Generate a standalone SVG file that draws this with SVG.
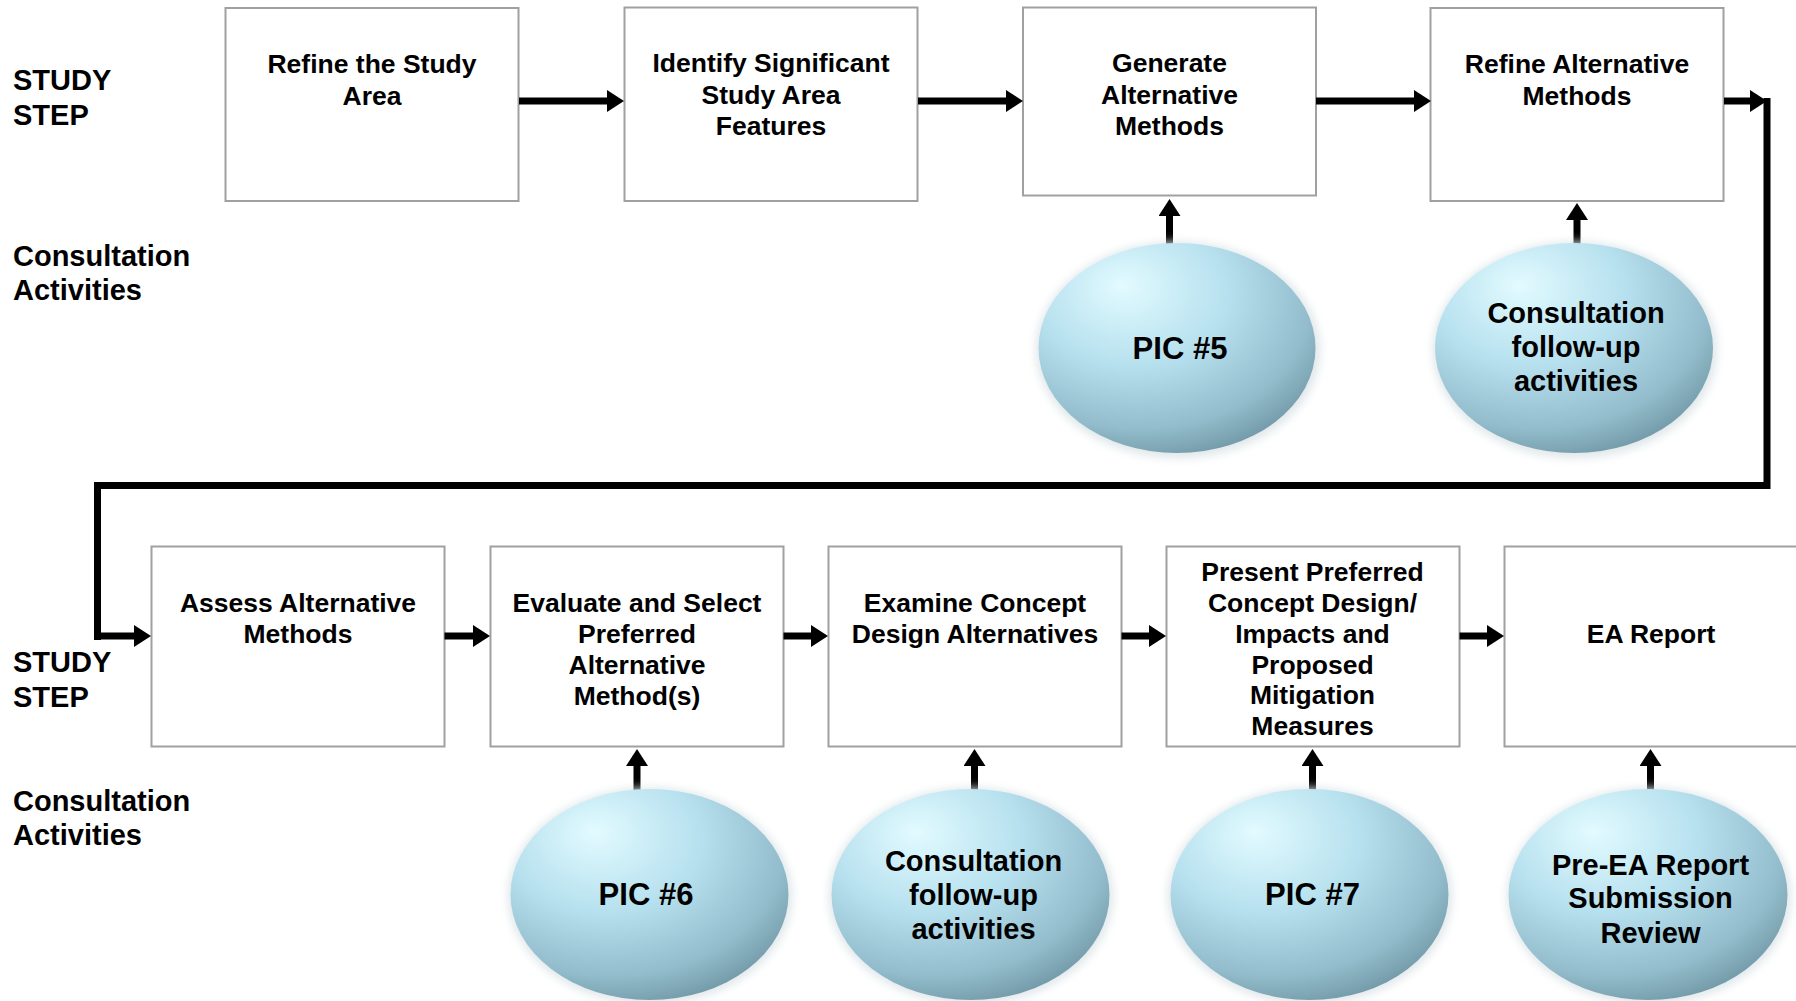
<svg xmlns="http://www.w3.org/2000/svg" width="1796" height="1001" viewBox="0 0 1796 1001">
<defs>
<style>
.box{fill:#ffffff;stroke:#a0a0a0;stroke-width:2}
.t{font-family:"Liberation Sans",Arial,sans-serif;font-weight:bold;fill:#000;text-anchor:middle}
.bt{font-size:26.5px}
.ct{font-size:29px}
.pt{font-size:31px}
.lab{font-family:"Liberation Sans",Arial,sans-serif;font-weight:bold;font-size:29px;fill:#000}
.bub{fill:url(#bg)}
.halo{fill:#dfe6e9;filter:url(#blur)}
.arr{stroke:#000;stroke-width:7;fill:none;marker-end:url(#head)}
.loop{stroke:#000;stroke-width:7;fill:none;stroke-linejoin:miter}
</style>
<radialGradient id="bg" cx="0.38" cy="0.28" r="0.78" fx="0.3" fy="0.2">
<stop offset="0" stop-color="#e2fbff"/>
<stop offset="0.45" stop-color="#b6e0ee"/>
<stop offset="0.8" stop-color="#92bccb"/>
<stop offset="1" stop-color="#6f95a4"/>
</radialGradient>
<filter id="blur" x="-20%" y="-20%" width="140%" height="140%">
<feGaussianBlur stdDeviation="5"/>
</filter>
<marker id="head" viewBox="0 0 17 22" refX="0" refY="11" markerWidth="17" markerHeight="22" markerUnits="userSpaceOnUse" orient="auto">
<path d="M0,0 L17,11 L0,22 Z" fill="#000"/>
</marker>
</defs>
<rect width="1796" height="1001" fill="#ffffff"/>

<g id="labels">
<text class="lab" x="13" y="90">STUDY</text>
<text class="lab" x="13" y="125">STEP</text>
<text class="lab" x="13" y="266">Consultation</text>
<text class="lab" x="13" y="300">Activities</text>
<text class="lab" x="13" y="672">STUDY</text>
<text class="lab" x="13" y="707">STEP</text>
<text class="lab" x="13" y="811">Consultation</text>
<text class="lab" x="13" y="845">Activities</text>
</g>

<g id="box1"><rect class="box" x="225.5" y="8" width="293" height="193"/>
<text class="t bt" x="372" y="73">Refine the Study</text>
<text class="t bt" x="372" y="104.5">Area</text></g>
<g id="box2"><rect class="box" x="624.5" y="7.5" width="293" height="193.5"/>
<text class="t bt" x="771" y="72">Identify Significant</text>
<text class="t bt" x="771" y="103.5">Study Area</text>
<text class="t bt" x="771" y="135">Features</text></g>
<g id="box3"><rect class="box" x="1023" y="7.5" width="293" height="188"/>
<text class="t bt" x="1169.5" y="72">Generate</text>
<text class="t bt" x="1169.5" y="103.5">Alternative</text>
<text class="t bt" x="1169.5" y="135">Methods</text></g>
<g id="box4"><rect class="box" x="1430.5" y="8" width="293" height="193"/>
<text class="t bt" x="1577" y="73">Refine Alternative</text>
<text class="t bt" x="1577" y="104.5">Methods</text></g>

<g id="box5"><rect class="box" x="151.5" y="546.5" width="293" height="200"/>
<text class="t bt" x="298" y="612">Assess Alternative</text>
<text class="t bt" x="298" y="643">Methods</text></g>
<g id="box6"><rect class="box" x="490.5" y="546.5" width="293" height="200"/>
<text class="t bt" x="637" y="612">Evaluate and Select</text>
<text class="t bt" x="637" y="643">Preferred</text>
<text class="t bt" x="637" y="674">Alternative</text>
<text class="t bt" x="637" y="705">Method(s)</text></g>
<g id="box7"><rect class="box" x="828.5" y="546.5" width="293" height="200"/>
<text class="t bt" x="975" y="612">Examine Concept</text>
<text class="t bt" x="975" y="643">Design Alternatives</text></g>
<g id="box8"><rect class="box" x="1166.5" y="546.5" width="293" height="200"/>
<text class="t bt" x="1312.5" y="581">Present Preferred</text>
<text class="t bt" x="1312.5" y="612">Concept Design/</text>
<text class="t bt" x="1312.5" y="643">Impacts and</text>
<text class="t bt" x="1312.5" y="674">Proposed</text>
<text class="t bt" x="1312.5" y="704">Mitigation</text>
<text class="t bt" x="1312.5" y="735">Measures</text></g>
<g id="box9"><rect class="box" x="1504.5" y="546.5" width="293" height="200"/>
<text class="t bt" x="1651" y="643">EA Report</text></g>

<g id="connectors">
<line class="arr" x1="519" y1="101" x2="607" y2="101"/>
<line class="arr" x1="918" y1="101" x2="1006" y2="101"/>
<line class="arr" x1="1316" y1="101" x2="1414" y2="101"/>
<line class="arr" x1="1724" y1="101" x2="1750" y2="101"/>
<path class="loop" d="M1767,98 V485.5 H97.5 V640"/>
<line class="arr" x1="100" y1="636" x2="134" y2="636"/>
<line class="arr" x1="444.5" y1="636" x2="473" y2="636"/>
<line class="arr" x1="783.5" y1="636" x2="811" y2="636"/>
<line class="arr" x1="1121.5" y1="636" x2="1149" y2="636"/>
<line class="arr" x1="1459.5" y1="636" x2="1487" y2="636"/>
<line class="arr" x1="1169.5" y1="252" x2="1169.5" y2="216"/>
<line class="arr" x1="1577" y1="248" x2="1577" y2="220"/>
<line class="arr" x1="637" y1="792" x2="637" y2="766"/>
<line class="arr" x1="974.5" y1="792" x2="974.5" y2="766"/>
<line class="arr" x1="1312.5" y1="792" x2="1312.5" y2="766"/>
<line class="arr" x1="1650.5" y1="792" x2="1650.5" y2="766"/>
</g>

<g id="pic5"><ellipse class="halo" cx="1178" cy="350" rx="142" ry="108"/><ellipse class="bub" cx="1177" cy="348" rx="138.5" ry="105"/>
<text class="t pt" x="1180" y="359">PIC #5</text></g>
<g id="consult1"><ellipse class="halo" cx="1575" cy="350" rx="142" ry="108"/><ellipse class="bub" cx="1574" cy="348" rx="139" ry="105"/>
<text class="t ct" x="1576" y="323">Consultation</text>
<text class="t ct" x="1576" y="357">follow-up</text>
<text class="t ct" x="1576" y="391">activities</text></g>
<g id="pic6"><ellipse class="halo" cx="650" cy="896" rx="142" ry="108"/><ellipse class="bub" cx="649.5" cy="894.5" rx="139" ry="105.5"/>
<text class="t pt" x="646" y="905">PIC #6</text></g>
<g id="consult2"><ellipse class="halo" cx="971" cy="896" rx="142" ry="108"/><ellipse class="bub" cx="970.5" cy="894.5" rx="139" ry="105.5"/>
<text class="t ct" x="973.5" y="871">Consultation</text>
<text class="t ct" x="973.5" y="905">follow-up</text>
<text class="t ct" x="973.5" y="939">activities</text></g>
<g id="pic7"><ellipse class="halo" cx="1310" cy="896" rx="142" ry="108"/><ellipse class="bub" cx="1309.5" cy="894.5" rx="139" ry="105.5"/>
<text class="t pt" x="1312.5" y="905">PIC #7</text></g>
<g id="preea"><ellipse class="halo" cx="1649" cy="896" rx="142" ry="108"/><ellipse class="bub" cx="1648" cy="894.5" rx="139.5" ry="105.5"/>
<text class="t ct" x="1650.5" y="875">Pre-EA Report</text>
<text class="t ct" x="1650.5" y="908">Submission</text>
<text class="t ct" x="1650.5" y="943">Review</text></g>
</svg>
